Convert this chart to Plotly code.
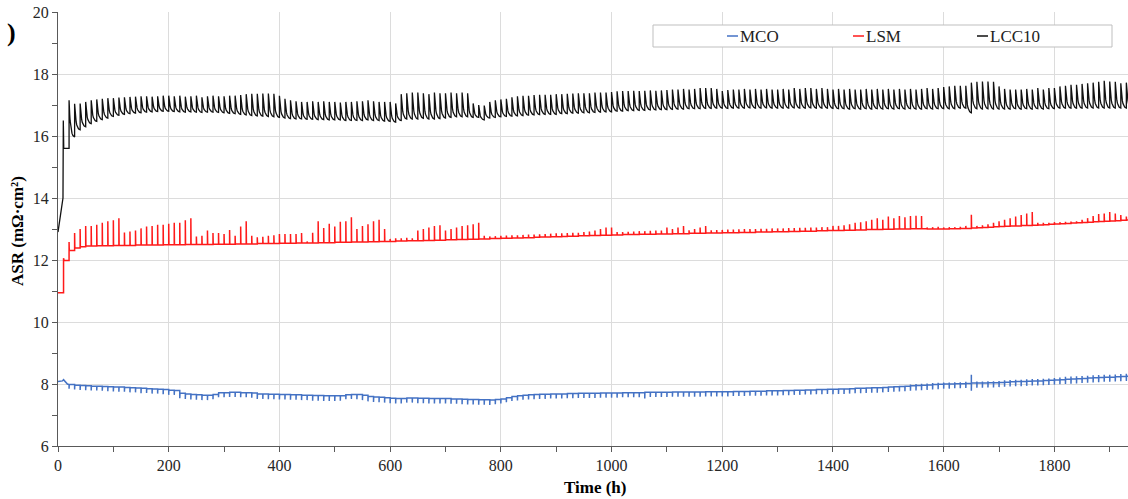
import math
import plotly.graph_objects as go


def vals(s):
    return [float(v) for v in s.split()]


# ---------------- data ----------------
period_h = 10          # length of one cycle (h)
first_cycle_h = 20     # first regular cycle start (h)

# LCC10: start-up transient, then per-cycle peak and end-of-cycle trough (t = 20 ... 1930 h)
lcc_start_t = [0, 9, 9.6, 10.4, 20]
lcc_start_v = [12.9, 14.0, 16.5, 15.6, 15.6]
lcc_peak = vals("""
17.15 17.04 17.05 17.10 17.15 17.18 17.20 17.22
17.22 17.24 17.25 17.26 17.27 17.28 17.28 17.27 17.28 17.30
17.30 17.28 17.30 17.27 17.28 17.30 17.25 17.28 17.30 17.28
17.28 17.30 17.30 17.32 17.35 17.36 17.36 17.37 17.37 17.36
17.30 17.20 17.15 17.12 17.10 17.10 17.12 17.10 17.12 17.10
17.10 17.08 17.10 17.10 17.12 17.12 17.15 17.12 17.10 17.10
17.10 17.05 17.35 17.38 17.40 17.40 17.38 17.35 17.40 17.38
17.38 17.40 17.38 17.40 17.38 17.05 17.00 16.98 17.10 17.15
17.18 17.20 17.25 17.28 17.30 17.30 17.32 17.33 17.33 17.33
17.35 17.35 17.36 17.37 17.38 17.38 17.38 17.40 17.40 17.40
17.42 17.44 17.45 17.45 17.46 17.45 17.46 17.47 17.46 17.47
17.48 17.50 17.50 17.52 17.50 17.52 17.55 17.55 17.55 17.52
17.45 17.48 17.50 17.50 17.52 17.50 17.52 17.50 17.52 17.50
17.50 17.52 17.50 17.55 17.52 17.55 17.55 17.52 17.55 17.52
17.50 17.52 17.50 17.52 17.50 17.50 17.52 17.50 17.52 17.50
17.52 17.50 17.52 17.50 17.52 17.50 17.52 17.55 17.52 17.55
17.58 17.60 17.62 17.62 17.62 17.72 17.75 17.76 17.76 17.75
17.60 17.52 17.50 17.50 17.50 17.52 17.50 17.55 17.50 17.55
17.55 17.60 17.62 17.65 17.65 17.68 17.70 17.72 17.75 17.78
17.76 17.75 17.70 17.72
""")
lcc_trough = vals("""
15.97 16.20 16.30 16.40 16.47 16.53 16.58 16.63
16.67 16.70 16.72 16.74 16.75 16.77 16.78 16.79 16.80 16.80
16.79 16.78 16.77 16.78 16.77 16.76 16.77 16.77 16.76 16.75
16.73 16.72 16.70 16.68 16.66 16.65 16.64 16.63 16.62 16.60
16.58 16.56 16.55 16.55 16.54 16.54 16.53 16.53 16.52 16.52
16.52 16.50 16.50 16.50 16.50 16.52 16.50 16.50 16.48 16.47
16.45 16.50 16.55 16.55 16.55 16.57 16.55 16.55 16.56 16.58
16.60 16.62 16.62 16.62 16.60 16.60 16.52 16.58 16.60 16.62
16.63 16.64 16.65 16.66 16.67 16.68 16.69 16.70 16.70 16.70
16.72 16.72 16.74 16.74 16.75 16.75 16.76 16.77 16.78 16.78
16.80 16.80 16.82 16.82 16.83 16.83 16.84 16.84 16.85 16.85
16.86 16.87 16.87 16.88 16.88 16.88 16.89 16.89 16.90 16.90
16.89 16.90 16.90 16.90 16.91 16.90 16.90 16.91 16.90 16.90
16.90 16.90 16.91 16.90 16.90 16.91 16.90 16.90 16.90 16.89
16.88 16.88 16.87 16.88 16.87 16.88 16.87 16.88 16.87 16.88
16.87 16.88 16.87 16.88 16.87 16.87 16.88 16.87 16.88 16.88
16.88 16.88 16.90 16.90 16.75 16.88 16.87 16.88 16.87 16.87
16.87 16.87 16.88 16.87 16.88 16.87 16.88 16.87 16.88 16.88
16.90 16.90 16.90 16.90 16.90 16.90 16.90 16.90 16.90 16.90
16.90 16.90 16.90 16.90
""")

# LSM: start-up, then per-cycle baseline and spike top (t = 20 ... 1930 h)
lsm_start_t = [0, 10, 10, 11, 20]
lsm_start_v = [10.94, 10.94, 12.06, 11.98, 11.98]
lsm_base = vals("""
12.31 12.39 12.43 12.45 12.45 12.46 12.46 12.46
12.47 12.47 12.47 12.47 12.48 12.48 12.48 12.48 12.48 12.49
12.49 12.49 12.49 12.50 12.50 12.50 12.50 12.50 12.51 12.51
12.51 12.51 12.52 12.52 12.52 12.52 12.53 12.53 12.53 12.53
12.54 12.54 12.54 12.55 12.55 12.55 12.55 12.56 12.56 12.56
12.57 12.57 12.57 12.58 12.58 12.58 12.59 12.59 12.60 12.60
12.60 12.61 12.61 12.62 12.62 12.62 12.63 12.63 12.64 12.64
12.65 12.65 12.66 12.66 12.67 12.67 12.68 12.68 12.69 12.69
12.70 12.70 12.71 12.71 12.72 12.72 12.73 12.74 12.74 12.75
12.75 12.76 12.77 12.77 12.78 12.78 12.79 12.79 12.80 12.80
12.81 12.81 12.82 12.82 12.82 12.83 12.83 12.83 12.84 12.84
12.84 12.85 12.85 12.85 12.86 12.86 12.86 12.87 12.87 12.87
12.88 12.88 12.88 12.89 12.89 12.89 12.90 12.90 12.90 12.91
12.91 12.91 12.92 12.92 12.93 12.93 12.93 12.94 12.94 12.95
12.95 12.95 12.96 12.96 12.97 12.97 12.98 12.98 12.98 12.99
12.99 13.00 13.00 13.00 13.01 13.01 13.01 13.00 13.00 13.00
13.00 13.01 13.01 13.02 13.02 13.03 13.04 13.05 13.06 13.07
13.08 13.09 13.10 13.10 13.11 13.11 13.12 13.13 13.14 13.15
13.16 13.17 13.18 13.19 13.20 13.21 13.22 13.23 13.24 13.25
13.26 13.27 13.28 13.29
""")
lsm_peak = vals("""
12.58 12.87 13.00 13.10 13.10 13.14 13.20 13.25
13.28 13.35 12.89 12.92 12.95 13.02 13.08 13.10 13.14 13.14
13.17 13.20 13.20 13.28 13.35 12.76 12.78 12.95 12.87 12.87
12.84 12.97 12.78 13.08 13.25 12.78 12.73 12.75 12.78 12.80
12.84 12.84 12.84 12.84 12.87 12.60 12.88 13.25 13.03 13.17
13.08 13.23 13.25 13.38 13.00 13.10 13.15 13.25 13.30 13.00
12.68 12.70 12.70 12.72 12.70 12.95 13.00 13.05 13.10 13.12
12.95 13.00 13.05 13.10 13.12 13.15 13.20 12.78 12.76 12.77
12.78 12.79 12.80 12.80 12.81 12.82 12.82 12.83 12.84 12.85
12.86 12.86 12.87 12.88 12.88 12.90 12.92 12.95 13.00 13.05
13.05 12.90 12.90 12.91 12.92 12.93 12.93 12.94 12.95 12.95
13.05 13.00 13.05 13.10 12.96 13.00 13.05 13.10 12.96 12.97
12.97 12.98 12.98 12.99 13.00 13.00 13.00 13.01 13.01 13.02
13.02 13.02 13.03 13.03 13.04 13.04 13.05 13.05 13.06 13.06
13.10 13.10 13.12 13.15 13.20 13.22 13.25 13.30 13.35 13.30
13.40 13.35 13.42 13.38 13.42 13.43 13.42 13.05 13.06 13.07
13.05 13.06 13.06 13.07 13.10 13.46 13.10 13.12 13.15 13.20
13.25 13.30 13.35 13.40 13.45 13.50 13.55 13.20 13.20 13.20
13.22 13.22 13.23 13.24 13.25 13.30 13.35 13.42 13.48 13.50
13.55 13.50 13.45 13.40
""")

# MCO: start-up, then per-cycle baseline, downward tick depth and upward tick height (t = 20 ... 1930 h)
mco_start_t = [0, 8, 10, 12, 17, 20]
mco_start_v = [8.08, 8.10, 8.14, 8.10, 8.00, 7.98]
mco_base = vals("""
7.98 7.96 7.95 7.94 7.93 7.93 7.92 7.91
7.90 7.90 7.89 7.88 7.87 7.86 7.85 7.84 7.83 7.82
7.80 7.79 7.70 7.68 7.66 7.65 7.64 7.64 7.66 7.72
7.72 7.73 7.73 7.72 7.72 7.71 7.68 7.68 7.67 7.67
7.66 7.66 7.65 7.65 7.64 7.64 7.63 7.63 7.62 7.62
7.62 7.62 7.65 7.66 7.66 7.64 7.60 7.58 7.57 7.56
7.54 7.53 7.53 7.55 7.55 7.54 7.54 7.53 7.53 7.53
7.53 7.52 7.52 7.51 7.50 7.50 7.49 7.49 7.48 7.50
7.52 7.56 7.60 7.62 7.64 7.65 7.66 7.67 7.67 7.68
7.68 7.68 7.69 7.69 7.70 7.70 7.70 7.70 7.71 7.71
7.71 7.71 7.72 7.72 7.72 7.72 7.73 7.73 7.73 7.73
7.73 7.74 7.74 7.74 7.74 7.74 7.74 7.75 7.75 7.75
7.75 7.75 7.76 7.76 7.76 7.77 7.77 7.77 7.78 7.78
7.78 7.79 7.79 7.80 7.80 7.81 7.81 7.82 7.82 7.83
7.83 7.84 7.84 7.85 7.86 7.86 7.87 7.88 7.88 7.89
7.90 7.91 7.92 7.93 7.94 7.95 7.96 7.97 7.98 7.99
8.00 8.00 8.01 8.01 8.02 8.03 8.03 8.03 8.04 8.04
8.05 8.06 8.07 8.08 8.08 8.09 8.10 8.10 8.11 8.12
8.13 8.14 8.15 8.16 8.17 8.18 8.19 8.20 8.21 8.22
8.22 8.23 8.24 8.25
""")
mco_down = vals("""
0.13 0.14 0.14 0.14 0.14 0.14 0.14 0.14
0.14 0.15 0.14 0.15 0.14 0.16 0.14 0.15 0.14 0.15
0.15 0.14 0.16 0.16 0.16 0.16 0.16 0.16 0.15 0.15
0.15 0.15 0.15 0.15 0.15 0.15 0.16 0.16 0.16 0.16
0.16 0.16 0.16 0.16 0.16 0.16 0.17 0.17 0.17 0.17
0.17 0.16 0.14 0.14 0.15 0.16 0.16 0.16 0.16 0.16
0.16 0.16 0.16 0.15 0.15 0.16 0.16 0.16 0.16 0.16
0.16 0.16 0.16 0.16 0.16 0.16 0.16 0.16 0.16 0.15
0.15 0.15 0.15 0.15 0.15 0.15 0.15 0.15 0.15 0.15
0.15 0.15 0.15 0.15 0.15 0.15 0.15 0.15 0.15 0.15
0.15 0.15 0.15 0.15 0.15 0.15 0.20 0.15 0.15 0.15
0.15 0.15 0.15 0.15 0.15 0.15 0.15 0.15 0.15 0.15
0.15 0.15 0.15 0.15 0.15 0.15 0.15 0.15 0.15 0.15
0.15 0.15 0.15 0.15 0.15 0.15 0.15 0.15 0.15 0.15
0.16 0.16 0.16 0.16 0.16 0.16 0.16 0.16 0.16 0.16
0.16 0.16 0.16 0.16 0.16 0.16 0.16 0.16 0.16 0.16
0.15 0.15 0.15 0.15 0.15 0.25 0.15 0.15 0.15 0.15
0.15 0.15 0.15 0.15 0.15 0.15 0.15 0.15 0.15 0.15
0.15 0.15 0.15 0.15 0.15 0.15 0.15 0.15 0.15 0.15
0.15 0.15 0.15 0.15
""")
mco_up = vals("""
0 0 0 0 0 0 0 0
0 0 0 0 0.03 0 0 0 0 0
0 0 0 0 0 0 0 0 0 0
0 0 0 0 0 0 0 0 0 0
0 0 0 0 0 0 0 0 0 0
0 0 0.03 0 0 0 0 0 0 0
0 0 0 0 0 0 0 0 0 0
0 0 0 0 0 0 0 0 0 0
0 0 0 0 0 0 0 0 0 0
0 0 0 0 0 0 0 0 0 0
0 0 0 0 0 0 0 0 0 0
0 0 0.03 0 0 0 0 0 0 0
0 0 0 0 0 0 0 0 0 0
0 0 0 0 0 0 0 0 0 0
0 0 0 0 0 0 0 0 0 0
0 0 0 0 0.04 0.05 0.05 0.05 0.05 0.05
0.05 0.05 0.05 0.05 0.05 0.27 0.05 0.05 0.05 0.05
0.05 0.06 0.06 0.06 0.06 0.06 0.06 0.06 0.06 0.06
0.06 0.07 0.08 0.08 0.08 0.08 0.08 0.08 0.08 0.08
0.08 0.08 0.08 0.08
""")

x_range = [0, 1933]
x_ticks = [0, 200, 400, 600, 800, 1000, 1200, 1400, 1600, 1800]
y_range = [6, 20]
y_ticks = [6, 8, 10, 12, 14, 16, 18, 20]

# ---------------- build traces ----------------
n_cyc = min(len(lcc_peak), len(lcc_trough), len(lsm_base), len(lsm_peak),
            len(mco_base), len(mco_down), len(mco_up))
cycle_t = [first_cycle_h + period_h * k for k in range(n_cyc)]

# LCC10: vertical jump to the peak, then relaxation to the trough within the cycle
tau = 2.4
decay_s = [0, 0.3, 0.7, 1.2, 1.9, 2.8, 3.9, 5.3, 7.0, 8.6, 10]
lx, ly = list(lcc_start_t), list(lcc_start_v)
for k in range(n_cyc):
    t, pk, tr = cycle_t[k], lcc_peak[k], lcc_trough[k]
    for s in decay_s:
        f = (math.exp(-s / tau) - math.exp(-10 / tau)) / (1 - math.exp(-10 / tau))
        lx.append(t + s)
        ly.append(tr + (pk - tr) * f)

# LSM: flat baseline with a narrow spike at every cycle start
sx, sy = list(lsm_start_t), list(lsm_start_v)
prev = lsm_start_v[-1]
for k in range(n_cyc):
    t = cycle_t[k]
    sx += [t, t, t + 0.4]
    sy += [prev, lsm_peak[k], lsm_base[k]]
    prev = lsm_base[k]
sx.append(cycle_t[-1] + period_h)
sy.append(prev)

# MCO: baseline with short ticks at every cycle start
mx, my = list(mco_start_t), list(mco_start_v)
prev = mco_start_v[-1]
for k in range(n_cyc):
    t, b = cycle_t[k], mco_base[k]
    mx += [t, t, t, t + 0.3]
    my += [prev, b + mco_up[k], b - mco_down[k], b]
    prev = b
mx.append(cycle_t[-1] + period_h)
my.append(prev)

FONT = "Liberation Serif"
fig = go.Figure()
fig.add_trace(go.Scatter(x=lx, y=ly, mode="lines", name="LCC10",
                         line=dict(color="#111111", width=1.3), showlegend=False))
fig.add_trace(go.Scatter(x=sx, y=sy, mode="lines", name="LSM",
                         line=dict(color="#ff1a1a", width=1.5), showlegend=False))
fig.add_trace(go.Scatter(x=mx, y=my, mode="lines", name="MCO",
                         line=dict(color="#4472c4", width=1.5), showlegend=False))

# plot-area geometry in pixels (for the boxed legend and titles)
W, H = 1128, 499
ML, MR, MT, MB = 58, 0, 12, 53
PW, PH = W - ML - MR, H - MT - MB


def px(xp):
    return (xp - ML) / PW


def py(yp):
    return (H - MB - yp) / PH


shapes = [dict(type="rect", xref="paper", yref="paper",
               x0=px(653), x1=px(1112), y0=py(47), y1=py(25),
               line=dict(color="#bfbfbf", width=1), fillcolor="white", layer="above")]
annotations = []
legend_items = [("MCO", "#4472c4", 727), ("LSM", "#ff1a1a", 853), ("LCC10", "#111111", 977)]
for name, col, x0 in legend_items:
    shapes.append(dict(type="line", xref="paper", yref="paper",
                       x0=px(x0), x1=px(x0 + 11), y0=py(36), y1=py(36),
                       line=dict(color=col, width=1.5), layer="above"))
    annotations.append(dict(text=name, xref="paper", yref="paper", x=px(x0 + 11), y=py(36.5),
                            xanchor="left", yanchor="middle", showarrow=False,
                            font=dict(family=FONT, size=17, color="#222222")))
annotations.append(dict(text="<b>)</b>", xref="paper", yref="paper", x=px(11), y=py(33),
                        xanchor="center", yanchor="middle", showarrow=False,
                        font=dict(family=FONT, size=26, color="#000000")))
# axis titles
annotations.append(dict(text="<b>Time (h)</b>", xref="paper", yref="paper", x=px(595), y=py(488),
                        xanchor="center", yanchor="middle", showarrow=False,
                        font=dict(family=FONT, size=17, color="#000000")))
annotations.append(dict(text="<b>ASR (mΩ·cm²)</b>", xref="paper", yref="paper", x=px(17), y=py(231),
                        xanchor="center", yanchor="middle", showarrow=False, textangle=-90,
                        font=dict(family=FONT, size=17, color="#000000")))

axis_common = dict(showgrid=True, gridcolor="#dcdcdc", gridwidth=1, zeroline=False,
                   showline=True, linecolor="#595959", linewidth=1,
                   ticks="outside", ticklen=5, tickcolor="#595959", automargin=False,
                   tickfont=dict(family=FONT, size=16, color="#262626"))

fig.update_layout(
    width=W, height=H,
    margin=dict(l=ML, r=MR, t=MT, b=MB, autoexpand=False),
    paper_bgcolor="white", plot_bgcolor="white",
    font=dict(family=FONT),
    xaxis=dict(range=x_range, tickvals=x_ticks,
               minor=dict(dtick=100, tick0=0, ticks="outside", ticklen=5, tickcolor="#595959", showgrid=False),
               **axis_common),
    yaxis=dict(range=y_range, tickvals=y_ticks,
               minor=dict(dtick=1, tick0=0, ticks="outside", ticklen=5, tickcolor="#595959", showgrid=False),
               **axis_common),
    shapes=shapes,
    annotations=annotations,
    showlegend=False,
)

# remove the default page margin so the figure sits at the window's top-left corner
fig.write_html("out.html",
               config={"displayModeBar": False},
               post_script="document.body.style.margin='0';document.body.style.overflow='hidden';")
